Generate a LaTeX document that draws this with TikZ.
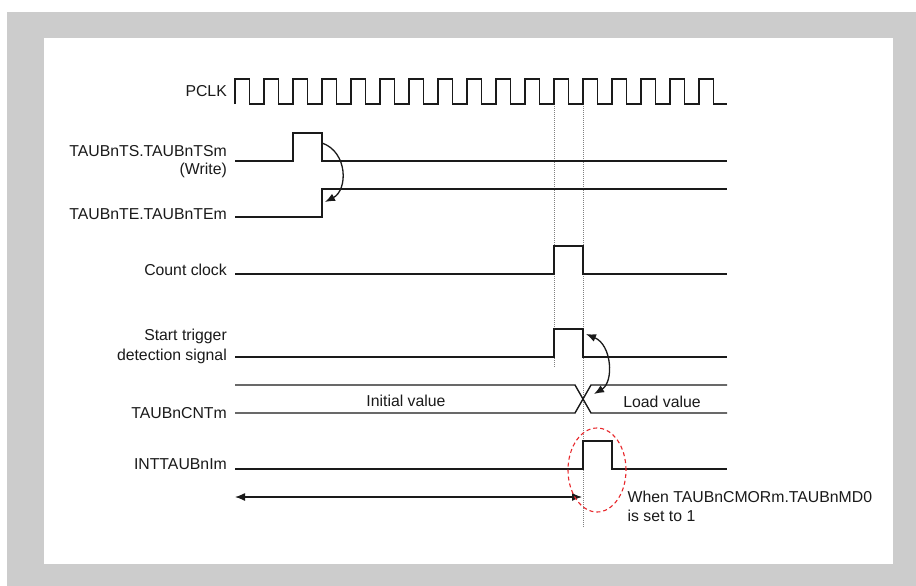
\documentclass[tikz,border=0pt]{standalone}
\usepackage{fontspec}
\setmainfont{Liberation Sans}
\usetikzlibrary{arrows.meta}
\definecolor{bordergray}{HTML}{CCCCCC}
\definecolor{ink}{HTML}{1A1A1A}
\definecolor{ovalred}{HTML}{E8262A}
\begin{document}
\begin{tikzpicture}[x=1pt,y=-1pt,
  wave/.style={line width=1.4pt, draw=ink, line join=miter},
  lbl/.style={font=\fontsize{15.8}{18.5}\selectfont, text=ink, inner sep=0pt},
  guide/.style={dash pattern=on 1pt off 1pt, line width=0.9pt, draw=gray},
  arcarrow/.style={line width=1.3pt, draw=ink, -{Latex[length=10pt,width=8pt]}},
  twoarrow/.style={line width=1.3pt, draw=ink, {Latex[length=10pt,width=8pt]}-{Latex[length=10pt,width=8pt]}},
  oval/.style={draw=ovalred, line width=1.1pt, dash pattern=on 4pt off 3pt}]
\useasboundingbox (0,0) rectangle (916,586);
\fill[bordergray] (7,12) rectangle (916,586);
\fill[white] (44,38) rectangle (893,564);

% guide lines
\coordinate (g1top) at (554,104);
\coordinate (g1bot) at (554,368);
\coordinate (g2top) at (583,104);
\coordinate (g2bot) at (583,528);
\draw[guide] (g1top) -- (g1bot);
\draw[guide] (g2top) -- (g2bot);

% labels
\node[lbl, anchor=base east] (lpclk) at (227,96.5) {PCLK};
\node[lbl, anchor=base east] (lts1) at (227,156.5) {TAUBnTS.TAUBnTSm};
\node[lbl, anchor=base east] (lts2) at (227,174.5) {(Write)};
\node[lbl, anchor=base east] (lte) at (227,219.5) {TAUBnTE.TAUBnTEm};
\node[lbl, anchor=base east] (lcc) at (227,275.5) {Count clock};
\node[lbl, anchor=base east] (lst1) at (227,340.5) {Start trigger};
\node[lbl, anchor=base east] (lst2) at (227,360) {detection signal};
\node[lbl, anchor=base east] (lcnt) at (227,418.5) {TAUBnCNTm};
\node[lbl, anchor=base east] (lint) at (227,469.5) {INTTAUBnIm};
\node[lbl, anchor=base] (linit) at (406,406) {Initial value};
\node[lbl, anchor=base] (lload) at (662,407) {Load value};
\node[lbl, anchor=base west] (lwhen1) at (627.5,502) {When TAUBnCMORm.TAUBnMD0};
\node[lbl, anchor=base west] (lwhen2) at (627.5,521.5) {is set to 1};

% PCLK
\draw[wave] (235,104) \foreach \k in {0,...,15} { -- ++(0,-25) -- ++(14.5,0) -- ++(0,25) -- ++(14.5,0) } -- ++(0,-25) -- ++(14.5,0) -- ++(0,25) -- (727,104);

% TAUBnTS
\draw[wave] (235,161) -- (293,161) -- (293,133) -- (322,133) -- (322,161) -- (727,161);
% TAUBnTE
\draw[wave] (235,217) -- (322,217) -- (322,189) -- (727,189);
% Count clock
\draw[wave] (235,274) -- (554,274) -- (554,246) -- (583,246) -- (583,274) -- (727,274);
% Start trigger
\draw[wave] (235,357) -- (554,357) -- (554,329) -- (583,329) -- (583,357) -- (727,357);
% TAUBnCNTm bus
\draw[wave] (235,385) -- (575,385) -- (591,413) -- (727,413);
\draw[wave] (235,413) -- (575,413) -- (591,385) -- (727,385);
% INTTAUBnIm
\draw[wave] (235,469) -- (583,469) -- (583,441) -- (612,441) -- (612,469) -- (727,469);

% arrows
\coordinate (tsfall) at (322,143);
\coordinate (terise) at (325,202);
\draw[arcarrow] (tsfall) .. controls (348,152) and (348,190) .. (terise);
\coordinate (stfall) at (586,334);
\coordinate (cross) at (594,394);
\draw[twoarrow] (stfall) .. controls (612,345) and (614,382) .. (cross);
\coordinate (spanl) at (235,497);
\coordinate (spanr) at (582,497);
\draw[twoarrow] (spanl) -- (spanr);

% red oval
\coordinate (ovc) at (597,470);
\draw[oval] (ovc) ellipse [x radius=29pt, y radius=42pt];
\end{tikzpicture}
\end{document}
